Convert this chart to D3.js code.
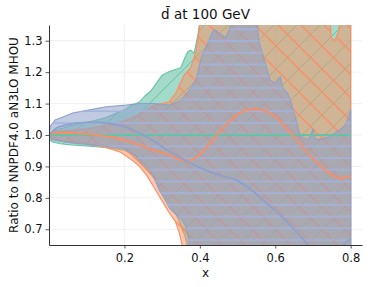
<!DOCTYPE html>
<html>
<head>
<meta charset="utf-8">
<script src="https://cdn.jsdelivr.net/npm/d3@7"></script>
<style>
  body { margin: 0; background: #fff; }
  text { font-family: "DejaVu Sans", sans-serif; }
</style>
</head>
<body>
<svg id="chart" width="374" height="287"></svg>
<script>
// ratio bands, [x, ratio] pairs
const greenHi = [[0,1.0],[0.01,1.012],[0.03,1.02],[0.06,1.03],[0.1,1.04],[0.15,1.055],[0.2,1.08],[0.22,1.095],[0.24,1.105],[0.255,1.125],[0.27,1.14],[0.285,1.165],[0.3,1.19],[0.315,1.2],[0.327,1.205],[0.34,1.21],[0.35,1.215],[0.36,1.245],[0.368,1.265],[0.376,1.27],[0.385,1.26],[0.395,1.32],[0.405,1.4],[0.8,1.4]];
const greenLo = [[0,0.985],[0.01,0.978],[0.03,0.972],[0.06,0.968],[0.1,0.965],[0.15,0.96],[0.2,0.952],[0.23,0.93],[0.26,0.89],[0.28,0.86],[0.3,0.82],[0.32,0.78],[0.34,0.74],[0.36,0.68],[0.37,0.63],[0.38,0.6],[0.8,0.6]];
const orangeHi = [[0,1.005],[0.02,1.01],[0.06,1.015],[0.1,1.02],[0.15,1.03],[0.2,1.045],[0.23,1.06],[0.26,1.08],[0.28,1.095],[0.3,1.1],[0.318,1.105],[0.337,1.135],[0.358,1.19],[0.376,1.215],[0.39,1.265],[0.397,1.325],[0.405,1.4],[0.745,1.4],[0.748,1.31],[0.758,1.3],[0.768,1.33],[0.772,1.4],[0.8,1.4]];
const orangeLo = [[0,0.995],[0.01,0.99],[0.03,0.982],[0.06,0.978],[0.1,0.972],[0.15,0.96],[0.19,0.945],[0.22,0.92],[0.24,0.9],[0.26,0.87],[0.275,0.84],[0.29,0.81],[0.305,0.78],[0.32,0.75],[0.335,0.725],[0.345,0.69],[0.353,0.65],[0.36,0.6],[0.8,0.6]];
const blueHi = [[0,1.01],[0.005,1.03],[0.016,1.048],[0.037,1.057],[0.063,1.07],[0.108,1.08],[0.152,1.09],[0.205,1.095],[0.24,1.1],[0.28,1.1],[0.318,1.095],[0.35,1.11],[0.37,1.14],[0.39,1.175],[0.405,1.25],[0.42,1.29],[0.432,1.325],[0.44,1.335],[0.45,1.325],[0.468,1.31],[0.48,1.34],[0.485,1.4],[0.55,1.4],[0.556,1.3],[0.573,1.23],[0.586,1.175],[0.6,1.165],[0.613,1.185],[0.62,1.15],[0.634,1.13],[0.643,1.1],[0.656,1.045],[0.666,0.995],[0.68,0.99],[0.687,0.985],[0.695,1.0],[0.7,1.02],[0.705,0.99],[0.715,0.985],[0.73,0.99],[0.745,0.995],[0.757,1.005],[0.775,1.02],[0.785,1.03],[0.795,1.06],[0.8,1.08]];
const blueLo = [[0,0.99],[0.01,0.985],[0.03,0.98],[0.06,0.975],[0.1,0.97],[0.15,0.965],[0.2,0.958],[0.23,0.935],[0.25,0.91],[0.266,0.89],[0.28,0.86],[0.292,0.826],[0.305,0.8],[0.318,0.77],[0.33,0.755],[0.34,0.745],[0.353,0.73],[0.363,0.71],[0.37,0.67],[0.375,0.6],[0.8,0.6]];

// central values
const greenMid = [[0,1.0],[0.8,1.0]];
const orangeMid = [[0,1.0],[0.016,1.008],[0.063,1.006],[0.126,1.0],[0.18,0.99],[0.24,0.968],[0.274,0.953],[0.318,0.937],[0.353,0.92],[0.371,0.92],[0.397,0.935],[0.424,0.97],[0.45,1.006],[0.476,1.04],[0.503,1.068],[0.525,1.08],[0.547,1.082],[0.57,1.078],[0.59,1.066],[0.612,1.045],[0.634,1.016],[0.656,0.985],[0.678,0.953],[0.713,0.91],[0.747,0.875],[0.774,0.863],[0.8,0.87]];
const blueMid = [[0,1.0],[0.02,1.022],[0.047,1.032],[0.1,1.04],[0.134,1.04],[0.17,1.035],[0.205,1.025],[0.23,1.012],[0.257,0.995],[0.285,0.975],[0.31,0.955],[0.345,0.93],[0.397,0.898],[0.458,0.87],[0.5,0.855],[0.547,0.815],[0.575,0.785],[0.6,0.76],[0.642,0.71],[0.68,0.66],[0.7,0.635],[0.73,0.62],[0.76,0.63],[0.785,0.655],[0.8,0.67]];

const xTicks = [0.2, 0.4, 0.6, 0.8];
const yTicks = [0.7, 0.8, 0.9, 1.0, 1.1, 1.2, 1.3];

const svg = d3.select("#chart");
const mLeft = 49, mRight = 362, mTop = 25, mBottom = 245;

const x = d3.scaleLinear().domain([0, 0.83]).range([mLeft, mRight]);
const y = d3.scaleLinear().domain([0.65, 1.35]).range([mBottom, mTop]);

// hatch patterns
const defs = svg.append("defs");
defs.append("clipPath").attr("id", "plotclip")
    .append("rect").attr("x", mLeft).attr("y", mTop)
    .attr("width", mRight - mLeft).attr("height", mBottom - mTop);

const p = 23;
const greenPat = defs.append("pattern").attr("id", "hatchGreen")
    .attr("patternUnits", "userSpaceOnUse").attr("width", p).attr("height", p);
greenPat.append("path").attr("d", `M0,${p} L${p},0 M${-p/2},${p/2} L${p/2},${-p/2} M${p/2},${p*1.5} L${p*1.5},${p/2}`)
    .attr("stroke", "#66c2a5").attr("stroke-width", 1);

const orangePat = defs.append("pattern").attr("id", "hatchOrange")
    .attr("patternUnits", "userSpaceOnUse").attr("width", p).attr("height", p);
orangePat.append("path").attr("d", `M0,0 L${p},${p} M${-p/2},${p/2} L${p/2},${p*1.5} M${p/2},${-p/2} L${p*1.5},${p/2}`)
    .attr("stroke", "#fc8d62").attr("stroke-width", 1.3);

const bluePat = defs.append("pattern").attr("id", "hatchBlue")
    .attr("patternUnits", "userSpaceOnUse").attr("width", 12).attr("height", 11.7);
bluePat.append("path").attr("d", "M0,6 L12,6")
    .attr("stroke", "#a3b3de").attr("stroke-width", 1.6);

// grid
const grid = svg.append("g");
grid.selectAll(".gx").data(xTicks).enter().append("line")
    .attr("x1", d => x(d)).attr("x2", d => x(d))
    .attr("y1", mTop).attr("y2", mBottom)
    .attr("stroke", "#ececec").attr("stroke-width", 0.8);
grid.selectAll(".gy").data(yTicks).enter().append("line")
    .attr("x1", mLeft).attr("x2", mRight)
    .attr("y1", d => y(d)).attr("y2", d => y(d))
    .attr("stroke", "#ececec").attr("stroke-width", 0.8);

const line = d3.line().x(d => x(d[0])).y(d => y(d[1]));
const smooth = d3.line().x(d => x(d[0])).y(d => y(d[1])).curve(d3.curveMonotoneX);

const plot = svg.append("g").attr("clip-path", "url(#plotclip)");

const bands = [
    {hi: greenHi, lo: greenLo, color: "#66c2a5", pat: "hatchGreen", alpha: 0.6},
    {hi: orangeHi, lo: orangeLo, color: "#fc8d62", pat: "hatchOrange", alpha: 0.5},
    {hi: blueHi, lo: blueLo, color: "#8da0cb", pat: "hatchBlue", alpha: 0.55}
];

bands.forEach(b => {
    const poly = b.hi.concat(b.lo.slice().reverse());
    const d = line(poly) + "Z";
    plot.append("path").attr("d", d)
        .attr("fill", b.color).attr("fill-opacity", b.alpha)
        .attr("stroke", b.color).attr("stroke-width", 1.1);
    plot.append("path").attr("d", d)
        .attr("fill", `url(#${b.pat})`).attr("stroke", "none");
});

const mids = [
    {data: greenMid, color: "#66c2a5"},
    {data: orangeMid, color: "#fc8d62"},
    {data: blueMid, color: "#8da0cb"}
];
mids.forEach(m => {
    plot.append("path").attr("d", smooth(m.data))
        .attr("fill", "none").attr("stroke", m.color).attr("stroke-width", 1.8);
});

// axes
const xAxis = svg.append("g").attr("transform", `translate(0,${mBottom})`)
    .call(d3.axisBottom(x).tickValues(xTicks).tickFormat(d3.format(".1f")).tickSize(3.5).tickSizeOuter(0));
const yAxis = svg.append("g").attr("transform", `translate(${mLeft},0)`)
    .call(d3.axisLeft(y).tickValues(yTicks).tickFormat(d3.format(".1f")).tickSize(3.5).tickSizeOuter(0));

[xAxis, yAxis].forEach(a => {
    a.select(".domain").attr("stroke", "#333").attr("stroke-width", 1);
    a.selectAll(".tick line").attr("stroke", "#333").attr("stroke-width", 0.8);
    a.selectAll(".tick text").attr("font-size", 11.5).attr("fill", "#111")
        .attr("font-family", "DejaVu Sans, sans-serif");
});
xAxis.selectAll(".tick text").attr("dy", "0.9em");

svg.append("text").attr("x", (mLeft + mRight) / 2).attr("y", 277)
    .attr("text-anchor", "middle").attr("font-size", 12).attr("fill", "#111").text("x");

svg.append("text")
    .attr("transform", `translate(18,${(mTop + mBottom) / 2}) rotate(-90)`)
    .attr("text-anchor", "middle").attr("font-size", 12).attr("fill", "#111")
    .text("Ratio to NNPDF4.0 aN3LO MHOU");

svg.append("text").attr("x", (mLeft + mRight) / 2).attr("y", 19)
    .attr("text-anchor", "middle").attr("font-size", 13.5).attr("fill", "#111")
    .text("d\u0304 at 100 GeV");
</script>
</body>
</html>
